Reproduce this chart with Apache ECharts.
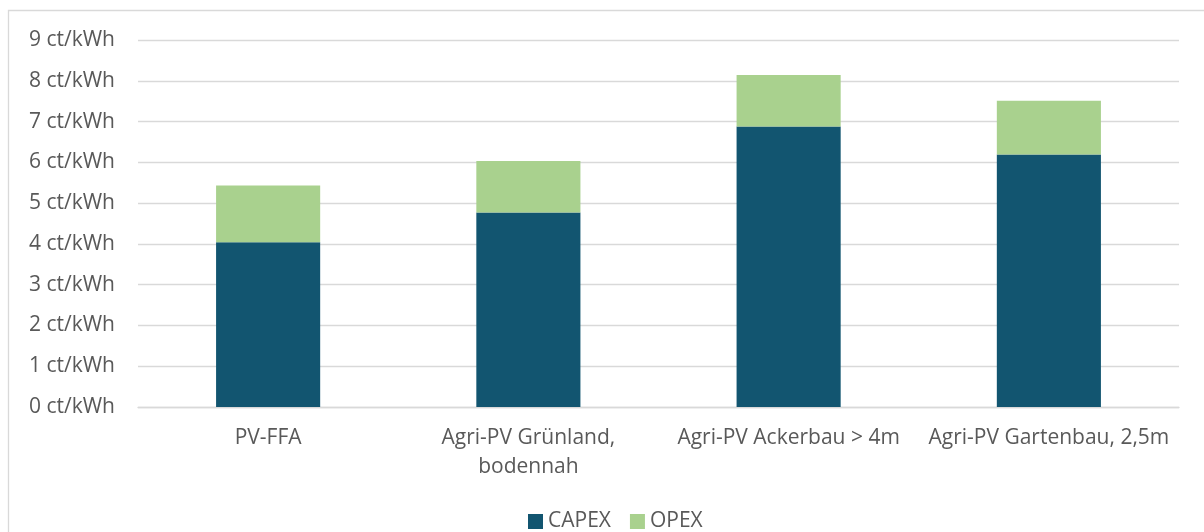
<!DOCTYPE html>
<html lang="de">
<head>
  <meta charset="UTF-8">
  <title>Stromgestehungskosten</title>
  <script src="https://cdn.jsdelivr.net/npm/echarts@6/dist/echarts.min.js"></script>
  <style type="text/css">
    html, body { margin: 0; padding: 0; background: #fff; }
    #main { width: 1204px; height: 532px; }
  </style>
</head>
<body>
  <div id="main"></div>
  <script type="text/javascript">
    // Werte (ct/kWh)
    var categories = ['PV-FFA', 'Agri-PV Grünland,\nbodennah', 'Agri-PV Ackerbau > 4m', 'Agri-PV Gartenbau, 2,5m'];
    var capex = [4.04, 4.77, 6.88, 6.19];
    var opex = [1.39, 1.26, 1.26, 1.32];
    var yTicks = [0, 1, 2, 3, 4, 5, 6, 7, 8, 9];

    var font = '"Open Sans", "DejaVu Sans", sans-serif';
    var textColor = '#595959';

    var myChart = echarts.init(document.getElementById('main'));

    var option = {
      animation: false,
      backgroundColor: '#fff',
      textStyle: { fontFamily: font },
      graphic: [{
        type: 'rect',
        shape: { x: 8.5, y: 10.5, width: 1400, height: 700 },
        style: { fill: 'none', stroke: '#d9d9d9', lineWidth: 1.3 },
        silent: true
      }],
      grid: { left: 138, right: 25, top: 40, bottom: 125, containLabel: false },
      legend: {
        top: 506,
        left: 523,
        itemWidth: 15,
        itemHeight: 15,
        itemGap: 19,
        icon: 'rect',
        textStyle: { color: textColor, fontSize: 21, fontFamily: font },
        data: ['CAPEX', 'OPEX']
      },
      xAxis: {
        type: 'category',
        data: categories,
        axisLine: { lineStyle: { color: '#d9d9d9', width: 1.3 } },
        axisTick: { show: false },
        axisLabel: {
          color: textColor,
          fontSize: 21,
          lineHeight: 29,
          margin: 17,
          interval: 0
        }
      },
      yAxis: {
        type: 'value',
        min: yTicks[0],
        max: yTicks[yTicks.length - 1],
        interval: 1,
        axisLine: { show: false },
        axisTick: { show: false },
        splitLine: { lineStyle: { color: '#d9d9d9', width: 1.3 } },
        axisLabel: {
          color: textColor,
          fontSize: 21,
          margin: 23,
          formatter: function (v) { return v + ' ct/kWh'; }
        }
      },
      series: [
        {
          name: 'CAPEX',
          type: 'bar',
          stack: 'lcoe',
          data: capex,
          barWidth: '40%',
          itemStyle: { color: '#125570' }
        },
        {
          name: 'OPEX',
          type: 'bar',
          stack: 'lcoe',
          data: opex,
          barWidth: '40%',
          itemStyle: { color: '#a9d18e' }
        }
      ]
    };

    myChart.setOption(option);
  </script>
</body>
</html>
